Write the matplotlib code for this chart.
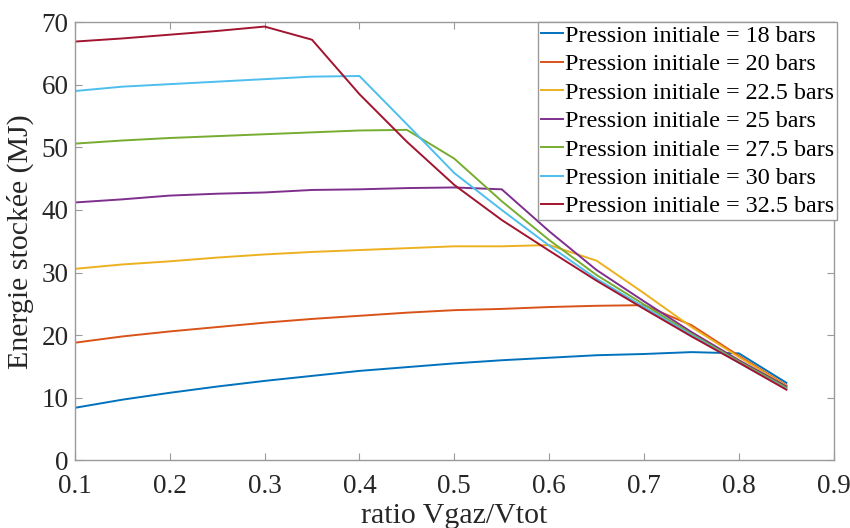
import matplotlib
matplotlib.use("Agg")
import matplotlib.pyplot as plt
import numpy as np

plt.rcParams['font.family'] = ['Liberation Serif', 'DejaVu Serif']

ratio = [0.10, 0.15, 0.20, 0.25, 0.30, 0.35, 0.40, 0.45,
         0.50, 0.55, 0.60, 0.65, 0.70, 0.75, 0.80, 0.85]

# energie stockee (MJ) pour chaque pression initiale
e18 = [8.4, 9.7, 10.8, 11.8, 12.7, 13.5, 14.3, 14.9,
       15.5, 16.0, 16.4, 16.8, 17.0, 17.3, 17.1, 12.4]
e20 = [18.8, 19.8, 20.6, 21.3, 22.0, 22.6, 23.1, 23.6,
       24.0, 24.2, 24.5, 24.7, 24.8, 21.6, 16.7, 12.0]
e225 = [30.6, 31.3, 31.8, 32.4, 32.9, 33.3, 33.6, 33.9,
        34.2, 34.2, 34.4, 31.9, 26.7, 21.3, 16.5, 11.9]
e25 = [41.2, 41.7, 42.3, 42.6, 42.8, 43.2, 43.3, 43.5,
       43.6, 43.3, 36.6, 30.4, 25.4, 20.5, 16.0, 11.8]
e275 = [50.6, 51.1, 51.5, 51.8, 52.1, 52.4, 52.7, 52.8,
        48.2, 41.4, 35.2, 29.6, 24.9, 20.2, 15.8, 11.6]
e30 = [59.0, 59.7, 60.1, 60.5, 60.9, 61.3, 61.4, 53.7,
       45.9, 40.0, 34.3, 29.0, 24.5, 20.0, 15.6, 11.4]
e325 = [66.9, 67.4, 68.0, 68.6, 69.3, 67.2, 58.5, 50.9,
        44.0, 38.4, 33.5, 28.7, 24.2, 19.8, 15.6, 11.3]

series = [e18, e20, e225, e25, e275, e30, e325]
labels = ["Pression initiale = 18 bars", "Pression initiale = 20 bars",
          "Pression initiale = 22.5 bars", "Pression initiale = 25 bars",
          "Pression initiale = 27.5 bars", "Pression initiale = 30 bars",
          "Pression initiale = 32.5 bars"]
colors = ['#0072BD', '#D95319', '#EDB120', '#7E2F8E',
          '#77AC30', '#4DBEEE', '#A2142F']

fig = plt.figure(figsize=(8.5, 5.28), dpi=100)
ax = fig.add_axes([0.088, 0.128, 0.893, 0.830])

for y, lab, c in zip(series, labels, colors):
    ax.plot(ratio, y, color=c, lw=1.4, label=lab)

ax.set_xlim(0.1, 0.9)
ax.set_ylim(0, 70)
ax.set_xticks(np.arange(0.1, 0.91, 0.1))
ax.set_xticklabels(["0.1", "0.2", "0.3", "0.4", "0.5", "0.6", "0.7", "0.8", "0.9"])
ax.set_yticks(range(0, 71, 10))

for s in ax.spines.values():
    s.set_color('#9a9a9a')
    s.set_linewidth(1.0)
ax.tick_params(direction='in', length=5, width=0.8, color='#9a9a9a',
               labelsize=19.5, labelcolor='#262626', top=True, right=True)
ax.tick_params(axis='x', pad=10)
ax.tick_params(axis='y', pad=4.5)

ax.set_xlabel("ratio Vgaz/Vtot", fontsize=21.5, color='#262626', labelpad=3)
ax.set_ylabel("Energie stockée (MJ)", fontsize=21.5, color='#262626', labelpad=5)

leg = ax.legend(loc='upper right', bbox_to_anchor=(837 / 850, 1 - 22 / 528),
                bbox_transform=fig.transFigure, fontsize=17.4, frameon=True,
                fancybox=False, framealpha=1, edgecolor='#9a9a9a',
                handlelength=0.9, handletextpad=0.1, labelspacing=0.27,
                borderpad=0.12, borderaxespad=0)
leg.get_frame().set_linewidth(1.0)

fig.savefig("out.png", dpi=100)
